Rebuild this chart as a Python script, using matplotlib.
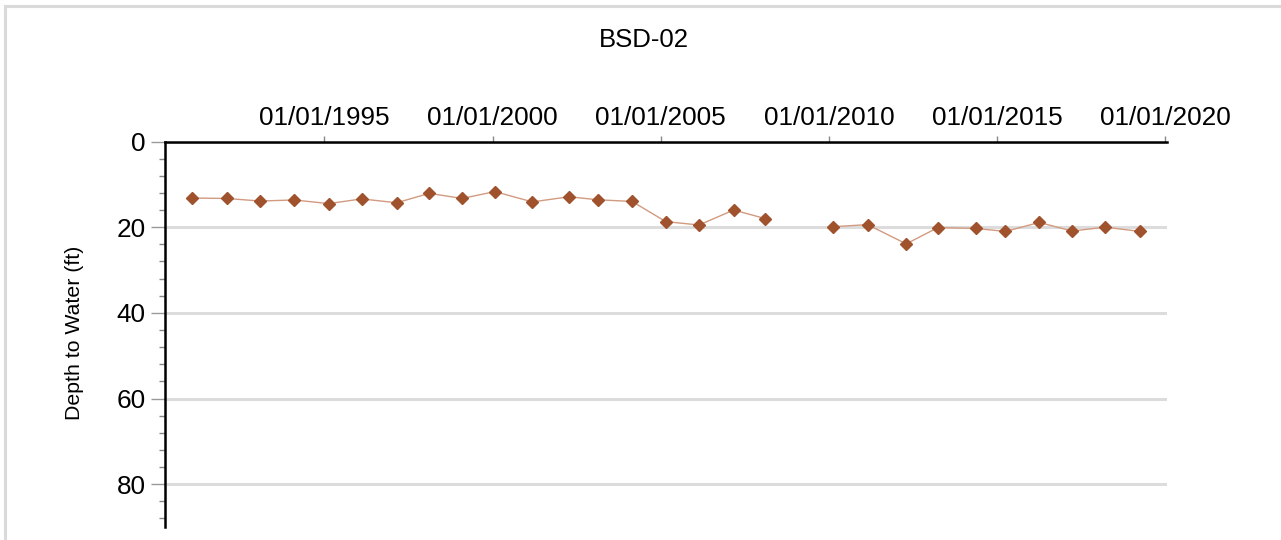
import matplotlib
matplotlib.use("Agg")
import matplotlib.pyplot as plt
import matplotlib.dates as mdates
from matplotlib.lines import Line2D
from matplotlib.ticker import MultipleLocator
import numpy as np

plt.rcParams['font.family'] = ['Liberation Sans', 'DejaVu Sans']

title = "BSD-02"
ylabel = "Depth to Water (ft)"

# sample dates and depth to water (ft); NaN marks the missing 2009 reading
dates = np.array([
    "1991-01-26", "1992-02-06", "1993-02-02", "1994-02-06", "1995-02-17",
    "1996-02-10", "1997-02-24", "1998-02-14", "1999-02-03", "2000-01-26",
    "2001-03-08", "2002-04-12", "2003-02-14", "2004-02-24", "2005-02-24",
    "2006-02-20", "2007-03-03", "2008-02-10", "2009-02-15", "2010-02-17",
    "2011-02-24", "2012-04-19", "2013-03-29", "2014-05-15", "2015-04-02",
    "2016-04-02", "2017-03-26", "2018-03-22", "2019-04-02",
], dtype="datetime64[D]")
depth = np.array([
    13.2, 13.3, 13.9, 13.65, 14.5, 13.4, 14.3, 12.1, 13.3, 11.7,
    14.1, 12.9, 13.6, 14.0, 18.7, 19.5, 16.0, 18.0, np.nan, 19.9,
    19.4, 23.9, 20.1, 20.3, 21.0, 18.9, 20.9, 20.0, 21.0,
])
tick_years = [1995, 2000, 2005, 2010, 2015, 2020]
xlim = (np.datetime64("1990-04-06"), np.datetime64("2020-01-20"))

fig = plt.figure(figsize=(12.81, 5.4), dpi=100)
ax = fig.add_axes([165 / 1281, 1 - 527 / 540, (1167 - 165) / 1281, (527 - 141.5) / 540])

ax.plot(dates, depth, color="#d29a80", lw=1.0, zorder=3)
ax.plot(dates, depth, ls="none", marker="D", ms=6.5, color="#a0522d", zorder=4)

ax.set_xlim(*xlim)
ax.set_ylim(90, 0)

# x axis on top
ax.xaxis.tick_top()
ax.set_xticks([np.datetime64(f"{y}-01-01") for y in tick_years])
ax.xaxis.set_major_formatter(mdates.DateFormatter("%m/%d/%Y"))
ax.tick_params(axis="x", which="major", direction="out", length=4, width=1,
               color="#888888", labelsize=18.8, pad=4)

ax.yaxis.set_major_locator(MultipleLocator(20))
ax.yaxis.set_minor_locator(MultipleLocator(4))
ax.tick_params(axis="y", which="major", direction="out", length=10, width=1,
               color="#999999", labelsize=18.8, pad=4)
ax.tick_params(axis="y", which="minor", direction="out", length=4.5, width=1,
               color="#888888")

ax.grid(axis="y", which="major", color="#dcdcdc", lw=2.2, zorder=1)
ax.set_axisbelow(True)

for side in ["bottom", "right"]:
    ax.spines[side].set_visible(False)
for side in ["top", "left"]:
    ax.spines[side].set_linewidth(1.8)
    ax.spines[side].set_color("black")

fig.text(0.503, 1 - 40 / 540, title, ha="center", va="center", fontsize=18.5)
fig.text(75 / 1281, 1 - 333 / 540, ylabel, rotation=90, ha="center", va="center",
         fontsize=15.3)

# light grey frame around the figure (top and left edges visible)
fig.add_artist(Line2D([5 / 1281, 1], [1 - 6 / 540, 1 - 6 / 540],
                      transform=fig.transFigure, color="#dadada", lw=2.2))
fig.add_artist(Line2D([5 / 1281, 5 / 1281], [0, 1 - 6 / 540],
                      transform=fig.transFigure, color="#dadada", lw=2.2))

fig.savefig("out.png", dpi=100)
